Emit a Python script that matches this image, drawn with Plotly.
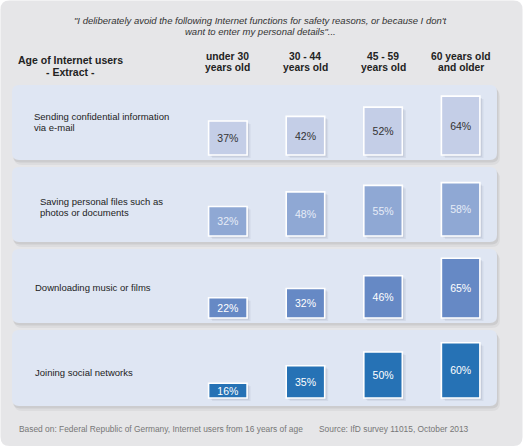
import plotly.graph_objects as go

# ---------------- data ----------------
age_groups = ["under 30", "30 - 44", "45 - 59", "60 years old"]
age_header_line1 = ["under 30", "30 - 44", "45 - 59", "60 years old"]
age_header_line2 = ["years old", "years old", "years old", "and older"]
functions = [
    ["Sending confidential information", "via e-mail"],
    ["Saving personal files such as", "photos or documents"],
    ["Downloading music or films"],
    ["Joining social networks"],
]
email = [37, 42, 52, 64]
personal_files = [32, 48, 55, 58]
downloading = [22, 32, 46, 65]
social = [16, 35, 50, 60]
series = [email, personal_files, downloading, social]

title_lines = [
    "\"I deliberately avoid the following Internet functions for safety reasons, or because I don't",
    "want to enter my personal details\"...",
]
header_left = ["Age of Internet users", "- Extract -"]
footer_left = "Based on: Federal Republic of Germany, Internet users from 16 years of age"
footer_right = "Source: IfD survey 11015, October 2013"

# ---------------- styling ----------------
W, H = 525, 447
FONT = "Liberation Sans, Arial, sans-serif"
bar_colors = ["#c4cee7", "#8fa8d4", "#6689c5", "#2672b5"]
text_colors = ["#333333", "#e6ecf7", "#ffffff", "#ffffff"]
panel_color = "#dfe6f3"
outer_color = "#e6e6e8"

bar_bottoms = [155, 236, 318, 398]          # pixel y of bar baseline per row
panels = [(12, 85, 497, 160), (12, 167, 497, 242), (12, 249, 497, 323), (12, 330, 497, 406)]
label_y = [(117, 127.5), (202, 212.5), (287,), (372,)]
label_x = [32, 38, 33, 33]
PX_PER_PCT = 0.92
Y_MIN, Y_MAX = -4, 74
x_left_px, x_right_px = 189.05, 499.45
unit_px = (x_right_px - x_left_px) / 4.0
bar_w = 38.5 / unit_px


def px(x):
    return x / W


def py(y):
    return 1 - y / H


def rrect(x0, y0, x1, y1, r):
    # rounded rectangle path in paper coords, given pixel coords
    X = lambda v: f"{px(v):.5f}"
    Y = lambda v: f"{py(v):.5f}"
    return (f"M {X(x0 + r)},{Y(y0)} L {X(x1 - r)},{Y(y0)} Q {X(x1)},{Y(y0)} {X(x1)},{Y(y0 + r)} "
            f"L {X(x1)},{Y(y1 - r)} Q {X(x1)},{Y(y1)} {X(x1 - r)},{Y(y1)} "
            f"L {X(x0 + r)},{Y(y1)} Q {X(x0)},{Y(y1)} {X(x0)},{Y(y1 - r)} "
            f"L {X(x0)},{Y(y0 + r)} Q {X(x0)},{Y(y0)} {X(x0 + r)},{Y(y0)} Z")


fig = go.Figure()

layout_axes = {}
for i, vals in enumerate(series):
    yname = "y" if i == 0 else f"y{i + 1}"
    axname = "yaxis" if i == 0 else f"yaxis{i + 1}"
    yb = bar_bottoms[i]
    d0 = py(yb - Y_MIN * PX_PER_PCT)
    d1 = py(yb - Y_MAX * PX_PER_PCT)
    layout_axes[axname] = dict(domain=[d0, d1], range=[Y_MIN, Y_MAX], visible=False,
                               anchor="x", fixedrange=True)
    # soft shadow
    for k, (dx, dy, a) in enumerate([(3.5, 3.0, 0.07), (2.0, 1.8, 0.10)]):
        fig.add_trace(go.Bar(
            x=age_groups, y=vals, base=[-dy / PX_PER_PCT] * len(vals),
            width=bar_w, offset=-bar_w / 2 + dx / unit_px,
            marker=dict(color=f"rgba(60,70,100,{a})", line=dict(width=0)),
            yaxis=yname, xaxis="x", hoverinfo="skip", showlegend=False, cliponaxis=False,
        ))
    fig.add_trace(go.Bar(
        x=age_groups, y=vals, width=bar_w, offset=-bar_w / 2,
        marker=dict(color=bar_colors[i], line=dict(color="white", width=1.6)),
        text=[f"{v}%" for v in vals], texttemplate="%{text}",
        textposition="inside", insidetextanchor="middle", constraintext="none",
        textfont=dict(family=FONT, size=10.5, color=text_colors[i]),
        yaxis=yname, xaxis="x", hoverinfo="skip", showlegend=False, cliponaxis=False,
    ))

shapes = []
# outer rounded background
shapes.append(dict(type="path", xref="paper", yref="paper", path=rrect(0.5, 0.5, 522.5, 446, 9),
                   fillcolor=outer_color, line=dict(width=0), layer="below"))
for (x0, y0, x1, y1) in panels:
    shapes.append(dict(type="path", xref="paper", yref="paper", path=rrect(x0 + 2, y0 + 4, x1 + 3, y1 + 5, 8),
                       fillcolor="rgba(0,0,0,0.045)", line=dict(width=0), layer="below"))
    shapes.append(dict(type="path", xref="paper", yref="paper", path=rrect(x0 + 1, y0 + 2, x1 + 1.5, y1 + 2.5, 7),
                       fillcolor="rgba(0,0,0,0.07)", line=dict(width=0), layer="below"))
    shapes.append(dict(type="path", xref="paper", yref="paper", path=rrect(x0, y0, x1, y1, 7),
                       fillcolor=panel_color, line=dict(width=0), layer="below"))

annotations = []
for j, (line, yy) in enumerate(zip(title_lines, [20, 31])):
    annotations.append(dict(text=f"<i>{line}</i>", x=px(260), y=py(yy), xref="paper", yref="paper",
                            showarrow=False, xanchor="center", yanchor="middle",
                            font=dict(family=FONT, size=9.5, color="#333333")))
for line, yy in zip(header_left, [60, 72]):
    annotations.append(dict(text=f"<b>{line}</b>", x=px(70), y=py(yy), xref="paper", yref="paper",
                            showarrow=False, xanchor="center", yanchor="middle",
                            font=dict(family=FONT, size=10.5, color="#222222")))
for cat, l1, l2 in zip(age_groups, age_header_line1, age_header_line2):
    for line, yy in zip([l1, l2], [56.2, 67.8]):
        annotations.append(dict(text=f"<b>{line}</b>", x=cat, y=py(yy), xref="x", yref="paper",
                                showarrow=False, xanchor="center", yanchor="middle",
                                font=dict(family=FONT, size=10.3, color="#222222")))
for i, lines in enumerate(functions):
    for line, yy in zip(lines, label_y[i]):
        annotations.append(dict(text=line, x=px(label_x[i]), y=py(yy), xref="paper", yref="paper",
                                showarrow=False, xanchor="left", yanchor="middle",
                                font=dict(family=FONT, size=9.5, color="#222222")))
annotations.append(dict(text=footer_left, x=px(17), y=py(429), xref="paper", yref="paper",
                        showarrow=False, xanchor="left", yanchor="middle",
                        font=dict(family=FONT, size=8.4, color="#777777")))
annotations.append(dict(text=footer_right, x=px(317), y=py(429), xref="paper", yref="paper",
                        showarrow=False, xanchor="left", yanchor="middle",
                        font=dict(family=FONT, size=8.4, color="#777777")))

fig.update_layout(
    width=W, height=H, autosize=False,
    margin=dict(l=0, r=0, t=0, b=0, pad=0),
    paper_bgcolor="white", plot_bgcolor="rgba(0,0,0,0)",
    barmode="overlay",
    xaxis=dict(domain=[px(x_left_px), px(x_right_px)], range=[-0.5, 3.5], visible=False,
               type="category", categoryorder="array", categoryarray=age_groups, fixedrange=True),
    shapes=shapes, annotations=annotations,
    font=dict(family=FONT),
    **layout_axes,
)

fig.write_html("out.html", config={"displayModeBar": False},
               post_script="document.body.style.margin='0';document.body.style.overflow='hidden';")
